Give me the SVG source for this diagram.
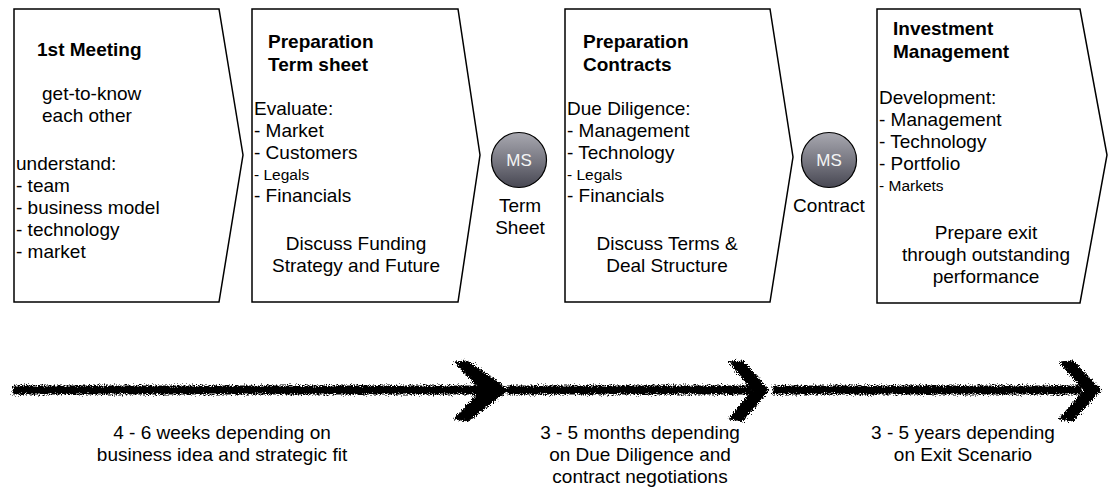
<svg xmlns="http://www.w3.org/2000/svg" width="1114" height="487" viewBox="0 0 1114 487">
<style>
.box{fill:#fff;stroke:#000;stroke-width:1.5}
text{font-family:"Liberation Sans",Arial,sans-serif;fill:#000}
.t{font-size:19px}
.b{font-size:19px;font-weight:bold}
.s{font-size:15.5px}
.c{text-anchor:middle}
.ms{font-size:17px;fill:#f4f4f4;text-anchor:middle}
.arr{fill:#000;stroke:#000;stroke-width:1}
</style>
<defs>
<linearGradient id="g" x1="0" y1="0" x2="0" y2="1">
<stop offset="0" stop-color="#a8a8b0"/>
<stop offset="0.55" stop-color="#75757f"/>
<stop offset="1" stop-color="#474752"/>
</linearGradient>
<filter id="rough" x="-5%" y="-50%" width="110%" height="200%">
<feTurbulence type="fractalNoise" baseFrequency="0.9" numOctaves="2" seed="3" result="n"/>
<feDisplacementMap in="SourceGraphic" in2="n" scale="7" xChannelSelector="R" yChannelSelector="G"/>
</filter>
</defs>
<rect width="1114" height="487" fill="#fff"/>

<g id="step1">
<polygon class="box" points="14,9 219,9 243,155 219,302 14,302"/>
<text class="b" x="37" y="56">1st Meeting</text>
<text class="t"><tspan x="42" y="100">get-to-know</tspan><tspan x="42" y="122">each other</tspan></text>
<text class="t"><tspan x="16" y="170">understand:</tspan><tspan x="16" y="192">- team</tspan><tspan x="16" y="214">- business model</tspan><tspan x="16" y="236">- technology</tspan><tspan x="16" y="258">- market</tspan></text>
</g>

<g id="step2">
<polygon class="box" points="252,9 458,9 480,155 458,302 252,302"/>
<text class="b"><tspan x="268" y="48">Preparation</tspan><tspan x="268" y="71">Term sheet</tspan></text>
<text class="t"><tspan x="254" y="115">Evaluate:</tspan><tspan x="254" y="137">- Market</tspan><tspan x="254" y="159">- Customers</tspan><tspan x="254" y="180" class="s">- Legals</tspan><tspan x="254" y="202">- Financials</tspan></text>
<text class="t c"><tspan x="356" y="250">Discuss Funding</tspan><tspan x="356" y="272">Strategy and Future</tspan></text>
</g>

<g id="ms1">
<circle cx="519" cy="160" r="27.5" fill="url(#g)" stroke="#000" stroke-width="1.2"/>
<text class="ms" x="519" y="166">MS</text>
<text class="t c"><tspan x="520" y="212">Term</tspan><tspan x="520" y="234">Sheet</tspan></text>
</g>

<g id="step3">
<polygon class="box" points="565,9 770,9 793,157 770,302 565,302"/>
<text class="b"><tspan x="583" y="48">Preparation</tspan><tspan x="583" y="71">Contracts</tspan></text>
<text class="t"><tspan x="567" y="115">Due Diligence:</tspan><tspan x="567" y="137">- Management</tspan><tspan x="567" y="159">- Technology</tspan><tspan x="567" y="180" class="s">- Legals</tspan><tspan x="567" y="202">- Financials</tspan></text>
<text class="t c"><tspan x="667" y="250">Discuss Terms &amp;</tspan><tspan x="667" y="272">Deal Structure</tspan></text>
</g>

<g id="ms2">
<circle cx="829" cy="160" r="27.5" fill="url(#g)" stroke="#000" stroke-width="1.2"/>
<text class="ms" x="829" y="166">MS</text>
<text class="t c" x="829" y="212">Contract</text>
</g>

<g id="step4">
<polygon class="box" points="877,9 1080,9 1107,155 1080,303 877,303"/>
<text class="b"><tspan x="893" y="35">Investment</tspan><tspan x="893" y="58">Management</tspan></text>
<text class="t"><tspan x="879" y="104">Development:</tspan><tspan x="879" y="126">- Management</tspan><tspan x="879" y="148">- Technology</tspan><tspan x="879" y="170">- Portfolio</tspan><tspan x="879" y="191" class="s">- Markets</tspan></text>
<text class="t c"><tspan x="986" y="239">Prepare exit</tspan><tspan x="986" y="261">through outstanding</tspan><tspan x="986" y="283">performance</tspan></text>
</g>

<g id="connectors" filter="url(#rough)">
<rect class="arr" x="13" y="386" width="478" height="8"/>
<polygon class="arr" points="454,362 468,361 509,390 468,421 454,419 481,390"/>
<rect class="arr" x="508" y="386" width="243" height="8"/>
<polygon class="arr" points="729,362 743,361 769,390 743,421 729,419 752,390"/>
<rect class="arr" x="773" y="386" width="308" height="8"/>
<polygon class="arr" points="1059,362 1073,361 1101,390 1073,421 1059,419 1084,390"/>
</g>

<g id="labels">
<text class="t c"><tspan x="222" y="439">4 - 6 weeks depending on</tspan><tspan x="222" y="461">business idea and strategic fit</tspan></text>
<text class="t c"><tspan x="640" y="439">3 - 5 months depending</tspan><tspan x="640" y="461">on Due Diligence and</tspan><tspan x="640" y="483">contract negotiations</tspan></text>
<text class="t c"><tspan x="963" y="439">3 - 5 years depending</tspan><tspan x="963" y="461">on Exit Scenario</tspan></text>
</g>
</svg>
